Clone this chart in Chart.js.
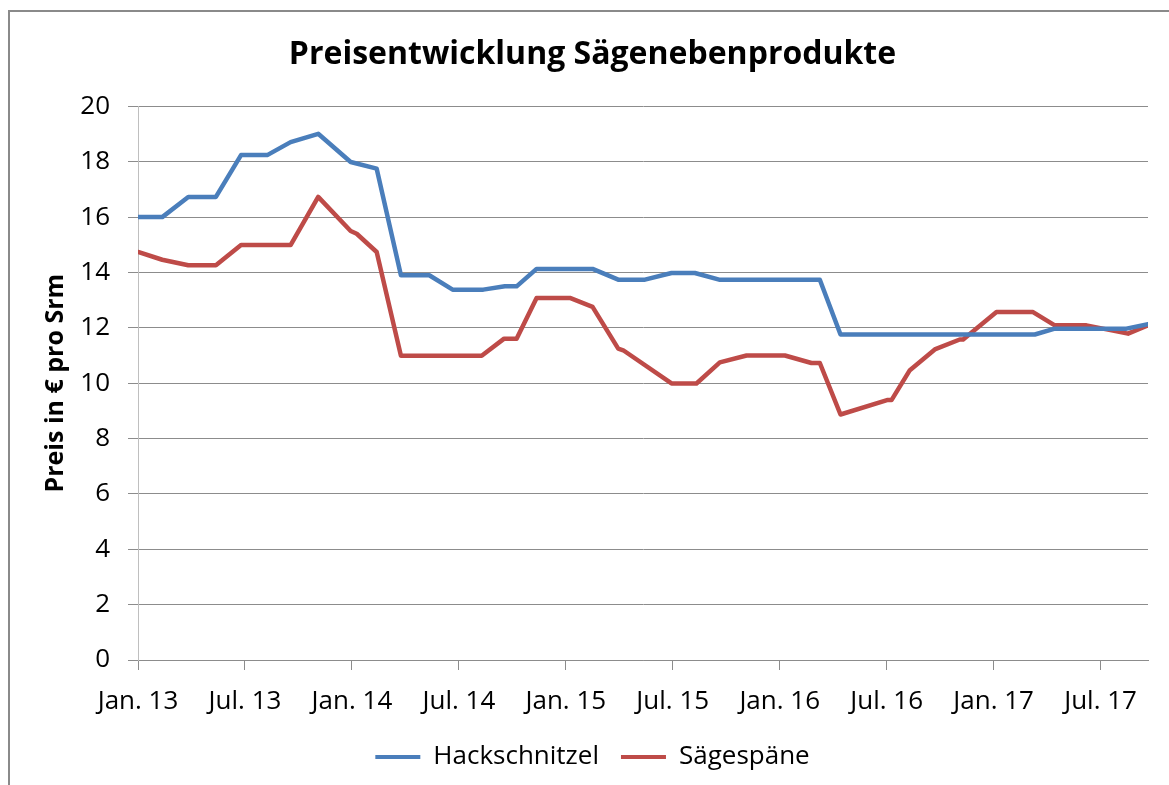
<!DOCTYPE html>
<html>
<head>
<meta charset="utf-8">
<script src="https://cdn.jsdelivr.net/npm/chart.js@4"></script>
<style>
  body { margin: 0; background: #fff; }
  #frame {
    position: absolute; left: 8px; top: 10px;
    width: 1300px; height: 900px;
    border-top: 2px solid #8a8a8a; border-left: 2px solid #8a8a8a;
  }
  #chart { position: absolute; left: 0; top: 0; }
</style>
</head>
<body>
<div id="frame"></div>
<canvas id="chart" width="1169" height="785"></canvas>
<script>
// months since Jan. 13 (x) and price in € per Srm (y)
const hackMonths = [0, 1.36, 2.82, 4.37, 5.78, 7.25, 8.56, 10.11, 11.93, 13.39,
  14.75, 16.34, 17.65, 19.37, 20.58, 21.24, 22.36, 25.5, 26.94, 28.44,
  29.93, 31.24, 32.6, 38.25, 39.41, 50.31, 51.43, 55.45, 56.66];
const hackValues = [16.0, 16.0, 16.73, 16.73, 18.24, 18.24, 18.71, 19.01, 17.99, 17.75,
  13.9, 13.9, 13.38, 13.38, 13.5, 13.5, 14.13, 14.13, 13.74, 13.74,
  13.98, 13.98, 13.74, 13.74, 11.76, 11.76, 11.97, 11.97, 12.13];

const saegeMonths = [0, 1.36, 2.82, 4.37, 5.78, 8.56, 10.11, 11.93, 12.27, 13.39,
  14.75, 19.28, 20.54, 21.24, 22.36, 24.23, 25.5, 26.94, 27.22, 29.93,
  31.33, 32.64, 34.14, 36.29, 37.78, 38.25, 39.41, 42.02, 42.27, 43.3,
  44.7, 46.1, 46.29, 48.16, 50.21, 51.43, 53.21, 55.54, 56.66];
const saegeValues = [14.74, 14.46, 14.26, 14.26, 14.99, 14.99, 16.73, 15.5, 15.4, 14.74,
  10.99, 10.99, 11.61, 11.61, 13.08, 13.08, 12.76, 11.25, 11.19, 9.99,
  9.99, 10.75, 11.0, 11.0, 10.73, 10.73, 8.87, 9.39, 9.39, 10.47,
  11.22, 11.58, 11.58, 12.57, 12.57, 12.09, 12.09, 11.79, 12.09];

const tickMonths = [0, 6, 12, 18, 24, 30, 36, 42, 48, 54];
const tickLabels = ["Jan. 13", "Jul. 13", "Jan. 14", "Jul. 14", "Jan. 15",
  "Jul. 15", "Jan. 16", "Jul. 16", "Jan. 17", "Jul. 17"];

const toPoints = (xs, ys) => xs.map((x, i) => ({ x: x, y: ys[i] }));

const FONT = "'Open Sans', sans-serif";
const GRID = "#8c8c8c";

new Chart(document.getElementById("chart"), {
  type: "line",
  data: {
    datasets: [
      {
        label: "Hackschnitzel",
        data: toPoints(hackMonths, hackValues),
        borderColor: "#4a7ebb",
        backgroundColor: "#4a7ebb"
      },
      {
        label: "Sägespäne",
        data: toPoints(saegeMonths, saegeValues),
        borderColor: "#be4b48",
        backgroundColor: "#be4b48"
      }
    ]
  },
  options: {
    responsive: false,
    animation: false,
    layout: { padding: { left: 37, right: 21, top: 0, bottom: 5 } },
    elements: {
      line: { borderWidth: 4.5, tension: 0, borderJoinStyle: "round", borderCapStyle: "round" },
      point: { radius: 0 }
    },
    plugins: {
      title: {
        display: true,
        text: "Preisentwicklung Sägenebenprodukte",
        color: "#000",
        font: { family: FONT, size: 32, weight: "bold" },
        padding: { top: 36, bottom: 32 }
      },
      legend: {
        position: "bottom",
        labels: {
          color: "#000",
          font: { family: FONT, size: 26 },
          boxWidth: 45,
          boxHeight: 4,
          padding: 22,
          generateLabels: chart =>
            Chart.defaults.plugins.legend.labels.generateLabels(chart)
              .map(l => Object.assign(l, { lineWidth: 0 }))
        }
      },
      tooltip: { enabled: false }
    },
    scales: {
      x: {
        type: "linear",
        min: 0,
        max: 56.66,
        afterBuildTicks: scale => {
          scale.ticks = tickMonths.map(v => ({ value: v }));
        },
        afterFit: scale => { scale.height = 62; },
        ticks: {
          color: "#000",
          font: { family: FONT, size: 26 },
          padding: 16,
          maxRotation: 0,
          autoSkip: false,
          callback: v => tickLabels[tickMonths.indexOf(v)]
        },
        grid: { drawOnChartArea: false, drawTicks: true, tickLength: 10, color: GRID },
        border: { color: GRID }
      },
      y: {
        min: 0,
        max: 20,
        afterFit: scale => { scale.width = 101; },
        ticks: {
          stepSize: 2,
          color: "#000",
          font: { family: FONT, size: 26 },
          padding: 18
        },
        grid: { color: GRID, tickLength: 10 },
        border: { color: "#bfbfbf" },
        title: {
          display: true,
          text: "Preis in € pro Srm",
          color: "#000",
          font: { family: FONT, size: 25, weight: "bold" },
          padding: { top: 4, bottom: 0 }
        }
      }
    }
  }
});
</script>
</body>
</html>
